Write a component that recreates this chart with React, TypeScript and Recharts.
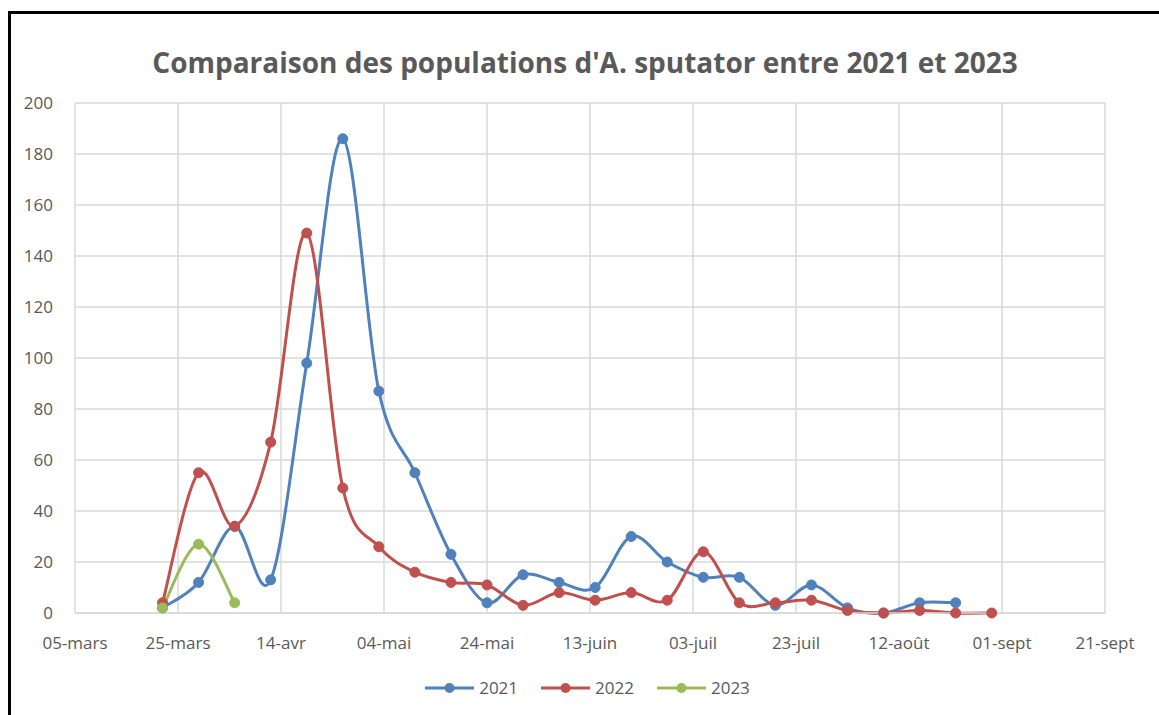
import React from 'react'
import { LineChart, Line, XAxis, YAxis, CartesianGrid, Legend } from 'recharts'

// weekly sampling dates (MM-DD), same calendar for every year
const DATES = [
  '03-22', '03-29', '04-05', '04-12', '04-19', '04-26', '05-03', '05-10',
  '05-17', '05-24', '05-31', '06-07', '06-14', '06-21', '06-28', '07-05',
  '07-12', '07-19', '07-26', '08-02', '08-09', '08-16', '08-23', '08-30',
]

const Y2021 = [2, 12, 34, 13, 98, 186, 87, 55, 23, 4, 15, 12, 10, 30, 20, 14, 14, 3, 11, 2, 0, 4, 4]
const Y2022 = [4, 55, 34, 67, 149, 49, 26, 16, 12, 11, 3, 8, 5, 8, 5, 24, 4, 4, 5, 1, 0, 1, 0, 0]
const Y2023 = [2, 27, 4]

const X_TICK_LABELS = [
  '05-mars', '25-mars', '14-avr', '04-mai', '24-mai', '13-juin',
  '03-juil', '23-juil', '12-août', '01-sept', '21-sept',
]
const X_TICKS = [64, 84, 104, 124, 144, 164, 184, 204, 224, 244, 264]
const Y_TICKS = [0, 20, 40, 60, 80, 100, 120, 140, 160, 180, 200]

const MONTH_START = [0, 31, 59, 90, 120, 151, 181, 212, 243, 273, 304, 334]
const dayOfYear = (md: string) => {
  const [m, d] = md.split('-').map(Number)
  return MONTH_START[m - 1] + d
}

const toSeries = (values: number[]) =>
  values.map((v, i) => ({ day: dayOfYear(DATES[i]), value: v }))

const SERIES = [
  { name: '2021', color: '#4f81bd', data: toSeries(Y2021) },
  { name: '2022', color: '#c0504d', data: toSeries(Y2022) },
  { name: '2023', color: '#9bbb59', data: toSeries(Y2023) },
]

// Excel style smoothed line (Catmull-Rom through every point)
const excelCurve = (context: any) => {
  let pts: number[][] = []
  return {
    areaStart() {},
    areaEnd() {},
    lineStart() {
      pts = []
    },
    point(x: number, y: number) {
      pts.push([+x, +y])
    },
    lineEnd() {
      const n = pts.length
      if (!n) return
      context.moveTo(pts[0][0], pts[0][1])
      for (let i = 0; i < n - 1; i++) {
        const p0 = pts[Math.max(i - 1, 0)]
        const p1 = pts[i]
        const p2 = pts[i + 1]
        const p3 = pts[Math.min(i + 2, n - 1)]
        context.bezierCurveTo(
          p1[0] + (p2[0] - p0[0]) / 6,
          p1[1] + (p2[1] - p0[1]) / 6,
          p2[0] - (p3[0] - p1[0]) / 6,
          p2[1] - (p3[1] - p1[1]) / 6,
          p2[0],
          p2[1]
        )
      }
    },
  }
}

const FONT = '"Open Sans", "Noto Sans", sans-serif'

const LegendContent = () => (
  <div style={{ display: 'flex', justifyContent: 'center', gap: 23, fontFamily: FONT, fontSize: 17, color: '#595959' }}>
    {SERIES.map((s) => (
      <div key={s.name} style={{ display: 'flex', alignItems: 'center', gap: 5 }}>
        <svg width={49} height={12}>
          <line x1={0} y1={6} x2={49} y2={6} stroke={s.color} strokeWidth={3} />
          <circle cx={24.5} cy={6} r={5} fill={s.color} />
        </svg>
        <span>{s.name}</span>
      </div>
    ))}
  </div>
)

export default function App() {
  return (
    <div style={{ position: 'absolute', left: 0, top: 0, width: 1159, height: 715, background: '#fff' }}>
      <div
        style={{
          position: 'absolute',
          left: 8,
          top: 11,
          width: 1151,
          height: 704,
          boxSizing: 'border-box',
          borderLeft: '3px solid #000',
          borderTop: '3px solid #000',
        }}
      />
      <div style={{ position: 'absolute', left: 0, top: 0 }}>
        <LineChart width={1159} height={715} margin={{ top: 103, right: 54, left: 0, bottom: 9 }}>
          <text
            x={585}
            y={73}
            textAnchor="middle"
            fontFamily={FONT}
            fontSize={28}
            fontWeight="bold"
            fill="#595959"
          >
            Comparaison des populations d'A. sputator entre 2021 et 2023
          </text>
          <CartesianGrid stroke="#d9d9d9" strokeWidth={1.5} />
          <XAxis
            type="number"
            dataKey="day"
            domain={[64, 264]}
            ticks={X_TICKS}
            tickFormatter={(d: number) => X_TICK_LABELS[X_TICKS.indexOf(d)]}
            height={63}
            stroke="#d9d9d9"
            strokeWidth={1.5}
            tickLine={false}
            tickMargin={18}
            tick={{ fill: '#595959', fontSize: 17, fontFamily: FONT }}
            allowDuplicatedCategory={false}
          />
          <YAxis
            domain={[0, 200]}
            ticks={Y_TICKS}
            width={75}
            axisLine={false}
            tickLine={false}
            tickMargin={16}
            tick={{ fill: '#595959', fontSize: 17, fontFamily: FONT }}
          />
          <Legend verticalAlign="bottom" height={30} wrapperStyle={{ left: 40, width: 1095 }} content={LegendContent} />
          {SERIES.map((s) => (
            <Line
              key={s.name}
              data={s.data}
              dataKey="value"
              name={s.name}
              type={excelCurve as any}
              stroke={s.color}
              strokeWidth={3}
              dot={{ r: 5, fill: s.color, stroke: s.color, strokeWidth: 1 }}
              activeDot={false}
              isAnimationActive={false}
            />
          ))}
        </LineChart>
      </div>
    </div>
  )
}
